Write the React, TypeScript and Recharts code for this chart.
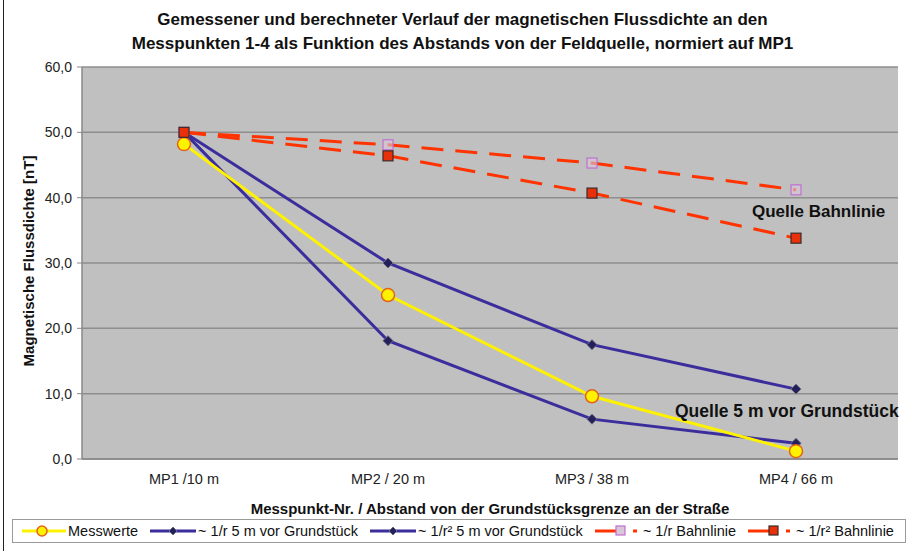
import React from "react";
import { LineChart, Line, XAxis, YAxis, CartesianGrid } from "recharts";

const categories = ["MP1 /10 m", "MP2 / 20 m", "MP3 / 38 m", "MP4 / 66 m"];
const messwerte = [48.2, 25.1, 9.6, 1.2];
const rNah = [50.0, 30.0, 17.5, 10.7];
const r2Nah = [50.0, 18.1, 6.1, 2.4];
const rBahn = [50.0, 48.1, 45.3, 41.2];
const r2Bahn = [50.0, 46.4, 40.7, 33.8];
const yTicks = [0, 10, 20, 30, 40, 50, 60];

const data = categories.map((name, i) => ({
  name,
  messwerte: messwerte[i],
  rNah: rNah[i],
  r2Nah: r2Nah[i],
  rBahn: rBahn[i],
  r2Bahn: r2Bahn[i],
}));

const FONT = "'Liberation Sans', Arial, sans-serif";
const YELLOW = "#fff200";
const BLUE = "#3b2d9c";
const RED = "#ff3300";

const Diamond = (p: any) => {
  const { cx, cy } = p;
  if (cx == null || cy == null) return <g key={p.index} />;
  const s = 5;
  return (
    <polygon
      key={`d-${p.index}`}
      points={`${cx},${cy - s} ${cx + s},${cy} ${cx},${cy + s} ${cx - s},${cy}`}
      fill="#23205c"
      stroke="#6a6a80"
      strokeWidth={1}
    />
  );
};

const Circle = (p: any) => {
  const { cx, cy } = p;
  if (cx == null || cy == null) return <g key={p.index} />;
  return <circle key={`c-${p.index}`} cx={cx} cy={cy} r={6.5} fill={YELLOW} stroke="#e2641a" strokeWidth={1.5} />;
};

const OpenSquare = (p: any) => {
  const { cx, cy } = p;
  if (cx == null || cy == null) return <g key={p.index} />;
  return <rect key={`o-${p.index}`} x={cx - 5} y={cy - 5} width={10} height={10} fill="#d9c6d9" fillOpacity={0.6} stroke="#c070d0" strokeWidth={1.2} />;
};

const FilledSquare = (p: any) => {
  const { cx, cy } = p;
  if (cx == null || cy == null) return <g key={p.index} />;
  return <rect key={`f-${p.index}`} x={cx - 5} y={cy - 5} width={10} height={10} fill="#e8300a" stroke="#3a2a2a" strokeWidth={1.2} />;
};

type LegendItem = { label: string; kind: "circle" | "diamond" | "open" | "filled" };
const legendItems: LegendItem[] = [
  { label: "Messwerte", kind: "circle" },
  { label: "~ 1/r 5 m vor Grundstück", kind: "diamond" },
  { label: "~ 1/r² 5 m vor Grundstück", kind: "diamond" },
  { label: "~ 1/r Bahnlinie", kind: "open" },
  { label: "~ 1/r² Bahnlinie", kind: "filled" },
];

function LegendIcon({ kind }: { kind: LegendItem["kind"] }) {
  if (kind === "circle") {
    return (
      <svg width={44} height={14}>
        <line x1={0} y1={7} x2={44} y2={7} stroke={YELLOW} strokeWidth={3} />
        <circle cx={20} cy={7} r={5} fill={YELLOW} stroke="#e2641a" strokeWidth={1.5} />
      </svg>
    );
  }
  if (kind === "diamond") {
    return (
      <svg width={46} height={14}>
        <line x1={0} y1={7} x2={46} y2={7} stroke={BLUE} strokeWidth={3} />
        <polygon points="23,3 27,7 23,11 19,7" fill="#23205c" stroke="#6a6a80" strokeWidth={1} />
      </svg>
    );
  }
  return (
    <svg width={46} height={14}>
      <line x1={0} y1={7} x2={30} y2={7} stroke={RED} strokeWidth={3} />
      <line x1={38} y1={7} x2={42} y2={7} stroke={RED} strokeWidth={3} />
      {kind === "open" ? (
        <rect x={21} y={2} width={9} height={9} fill="#d9c6d9" stroke="#c070d0" strokeWidth={1.2} />
      ) : (
        <rect x={21} y={2} width={9} height={9} fill="#e8300a" stroke="#3a2a2a" strokeWidth={1.2} />
      )}
    </svg>
  );
}

export default function App() {
  return (
    <div style={{ position: "absolute", left: 0, top: 0, width: 908, height: 551, background: "#fff", fontFamily: FONT, overflow: "hidden" }}>
      <div style={{ position: "absolute", left: 3, top: 0, width: 0, height: 551, borderLeft: "1.5px solid #222" }} />
      <div style={{ position: "absolute", left: 0, top: 8, width: 925, textAlign: "center", fontWeight: "bold", fontSize: 17, lineHeight: "24px", color: "#111" }}>
        Gemessener und berechneter Verlauf der magnetischen Flussdichte an den
        <br />
        Messpunkten 1-4 als Funktion des Abstands von der Feldquelle, normiert auf MP1
      </div>

      <LineChart width={908} height={551} data={data} margin={{ top: 67, right: 10, left: 22, bottom: 62 }} style={{ position: "absolute", left: 0, top: 0 }}>
        <CartesianGrid vertical={false} fill="#c0c0c0" stroke="#8e8e8e" strokeWidth={1.5} />
        <XAxis
          xAxisId="b"
          type="number"
          domain={[0, 4]}
          ticks={[0, 1, 2, 3, 4]}
          allowDataOverflow
          height={0}
          tick={false}
          axisLine={false}
          tickLine={{ stroke: "#888" }}
          tickSize={5}
        />
        <XAxis
          dataKey="name"
          padding={{ left: 102, right: 102 }}
          height={30}
          tickLine={false}
          axisLine={{ stroke: "#888", strokeWidth: 1.5 }}
          tick={{ fill: "#222", fontSize: 14.5, fontFamily: FONT }}
          tickMargin={9}
        />
        <YAxis
          domain={[0, 60]}
          ticks={yTicks}
          width={60}
          interval={0}
          axisLine={{ stroke: "#888", strokeWidth: 1.5 }}
          tickLine={{ stroke: "#888" }}
          tickSize={5}
          tickMargin={5}
          tick={{ fill: "#222", fontSize: 14, fontFamily: FONT }}
          tickFormatter={(v: number) => v.toFixed(1).replace(".", ",")}
        />
        <YAxis yAxisId="r" orientation="right" domain={[0, 60]} width={0} tick={false} tickLine={false} axisLine={{ stroke: "#888", strokeWidth: 1.5 }} />

        <Line dataKey="rNah" stroke={BLUE} strokeWidth={3} dot={Diamond} activeDot={false} isAnimationActive={false} />
        <Line dataKey="r2Nah" stroke={BLUE} strokeWidth={3} dot={Diamond} activeDot={false} isAnimationActive={false} />
        <Line dataKey="messwerte" stroke={YELLOW} strokeWidth={3} dot={Circle} activeDot={false} isAnimationActive={false} />
        <Line dataKey="rBahn" stroke={RED} strokeWidth={3} strokeDasharray="22 12" dot={OpenSquare} activeDot={false} isAnimationActive={false} />
        <Line dataKey="r2Bahn" stroke={RED} strokeWidth={3} strokeDasharray="22 12" dot={FilledSquare} activeDot={false} isAnimationActive={false} />
      </LineChart>

      <div style={{ position: "absolute", left: 28, top: 261, transform: "translate(-50%, -50%) rotate(-90deg)", whiteSpace: "nowrap", fontWeight: "bold", fontSize: 15, color: "#111" }}>
        Magnetische Flussdichte [nT]
      </div>
      <div style={{ position: "absolute", left: 490, top: 508, transform: "translate(-50%, -50%)", whiteSpace: "nowrap", fontWeight: "bold", fontSize: 15, color: "#111" }}>
        Messpunkt-Nr. / Abstand von der Grundstücksgrenze an der Straße
      </div>
      <div style={{ position: "absolute", left: 752, top: 202, whiteSpace: "nowrap", fontWeight: "bold", fontSize: 17, color: "#111" }}>
        Quelle Bahnlinie
      </div>
      <div style={{ position: "absolute", left: 675, top: 401, whiteSpace: "nowrap", fontWeight: "bold", fontSize: 17.5, color: "#111" }}>
        Quelle 5 m vor Grundstück
      </div>

      <div style={{ position: "absolute", left: 12, top: 519, width: 894, height: 24, border: "1px solid #9a9a9a", display: "flex", alignItems: "center", fontSize: 14.5, color: "#111", boxSizing: "border-box", paddingLeft: 9, gap: 12 }}>
        {legendItems.map((it) => (
          <div key={it.label} style={{ display: "flex", alignItems: "center", gap: 2, whiteSpace: "nowrap" }}>
            <LegendIcon kind={it.kind} />
            <span>{it.label}</span>
          </div>
        ))}
      </div>
    </div>
  );
}
